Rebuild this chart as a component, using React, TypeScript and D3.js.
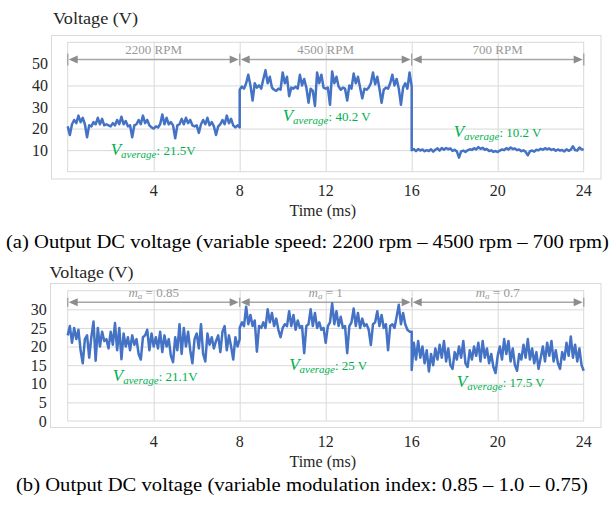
import { useEffect, useRef } from 'react'
import * as d3 from 'd3'

// sample step of the scope traces (ms)
const DT = 0.1
const edges = [0, 8, 16, 24]
const xTicks = [4, 8, 12, 16, 20, 24]

// (a) variable speed: 2200 rpm, 4500 rpm, 700 rpm
const speed2200 = [
  21, 17, 22, 24, 22.5, 26, 23, 25, 22, 16, 21.5,
  21, 23, 22, 25, 22, 24.5, 21.5, 22, 21.5,
  21, 22.5, 21.5, 24, 22, 25.5, 22, 23.5, 21, 21.5,
  16, 21.5, 22, 24, 22, 26, 22.5, 24, 21.5, 20.5,
  20, 21, 20.5, 22, 26.5, 22, 25, 22, 23, 21.5,
  15.5, 21.5, 22, 24.5, 22, 25, 22.5, 24, 21.5, 21,
  21.5, 18, 22, 24, 22, 25, 21.5, 23, 21, 17,
  21, 22, 24, 22, 26, 22.5, 24.5, 21.5, 20.5, 21.5, 20.5,
]
const speed4500 = [
  38, 39.5, 38.5, 41, 45, 40, 33, 41, 39, 40,
  38.5, 43, 47, 41, 44, 39, 38, 37.5, 38.5, 38,
  46, 41, 44, 35, 39, 38.5, 39.5, 38.5, 45, 40,
  43, 39, 32, 38.5, 37.5, 30.5, 46, 41, 45, 39,
  38.5, 39, 31, 46.5, 41, 44, 39.5, 38, 39, 38.5,
  33, 40, 38.5, 45.5, 41, 44, 39, 34, 38.5, 38,
  39, 41, 46, 40.5, 44, 38.5, 32, 38, 39, 38.5,
  41, 45, 40, 43, 38.5, 31, 39, 41, 38.5, 46, 39.5,
]
const speed700 = [
  10, 10.5, 9.5, 10.5, 9.8, 10.3, 9.5, 10, 9.6, 10.4,
  9.3, 10.2, 10.8, 9.8, 11, 10.2, 11, 10.4, 10.8, 9.6,
  10.2, 9.4, 6.5, 9.4, 9.8, 9.2, 9.9, 10.4, 10.1, 10.9,
  10.3, 11.4, 10.6, 11.1, 10.2, 10.5, 9.6, 9.9, 9.2, 9.6,
  9.1, 9.8, 10.3, 10, 10.9, 10.3, 11.2, 10.5, 10.8, 10,
  10.3, 9.5, 9.9, 9.2, 7.6, 9.5, 9.8, 9.3, 10.2, 9.9,
  10.6, 10.2, 10.9, 10.4, 10.8, 10.1, 10.5, 9.7, 10.3, 9.8,
  10.1, 9.4, 10.4, 9.7, 10.2, 11.8, 10, 9.8, 11.2, 10.4, 10.2,
]
const speedLabels = ['2200 RPM', '4500 RPM', '700 RPM']
const speedAverages = ['21.5V', '40.2 V', '10.2 V']
const speedAvgT = [2.0, 10.0, 17.95]
const speedAvgV = [7.7, 23.6, 16.2]
const speedYTicks = [10, 20, 30, 40, 50]
const speedGrid = [10, 20, 30, 40]

// (b) variable modulation index: 0.85, 1.0, 0.75
const mod085 = [
  23, 25.5, 21, 25, 22, 24.5, 19, 15.5, 22, 23,
  17, 22.5, 26.7, 16.2, 25, 20, 24, 21.5, 22, 19.5,
  24, 20.5, 26.3, 19, 25, 16.6, 23.5, 20, 22.5, 19,
  23, 20.5, 22, 18, 16.5, 22.5, 23, 24.5, 19, 23.5,
  20, 22.5, 19.5, 24, 18.5, 23, 20, 22, 17.5, 15.8,
  22.5, 19, 26, 18, 25, 20, 24, 19, 15.5, 22,
  23.5, 19.5, 26, 18, 16, 23.5, 20.5, 22.5, 19.5, 21.5,
  23, 18.5, 24, 25.5, 19, 23, 20, 16.5, 22.5, 20, 22,
]
const mod100 = [
  25, 26.5, 25.5, 30.7, 26, 28.5, 25.5, 27, 18.6, 25.5,
  25, 26.5, 25, 30, 26.5, 29, 25.5, 27.5, 24.5, 22.5,
  25, 26, 25.5, 29.5, 25.5, 28.5, 24.5, 27, 25, 25.5,
  18.2, 25.5, 26, 30, 25.5, 29, 25, 26.5, 24.5, 25,
  21, 25.5, 26.5, 31.6, 26, 29.5, 25.5, 28, 25, 25.5,
  18.2, 25.5, 26.5, 30.2, 25.5, 29, 25, 27.5, 25.5, 26,
  24.5, 20.4, 26, 26.5, 29.5, 25.5, 28.5, 25, 26, 19,
  25.5, 26, 25, 28, 31.2, 26, 29, 26, 24.5, 24, 24,
]
const mod075 = [
  13.7, 21, 16.5, 21.5, 17, 20, 15.5, 19, 13.3, 18,
  15, 19.5, 16.5, 20.5, 17, 21.5, 16, 19.5, 15, 14,
  18.5, 16.5, 20, 17, 21.5, 15.5, 14.5, 19, 16.5, 20,
  17.5, 21, 16, 21.5, 17, 19.5, 15.5, 18, 14.5, 12.9,
  17.5, 20, 16.5, 22, 18, 21.5, 16, 19.5, 15, 13.5,
  18, 16.5, 20.5, 17, 22, 16.5, 19.5, 15.5, 18.5, 14,
  17, 20, 16, 21, 17.5, 21.5, 16, 19, 15.5, 14,
  18.5, 16.5, 21, 17.5, 22.7, 17, 20.5, 16, 19.5, 15, 13.5,
]
const modLabels = ['0.85', '1', '0.7']
const modAverages = ['21.1V', '25 V', '17.5 V']
const modAvgT = [2.1, 10.3, 18.1]
const modAvgV = [10.8, 13.7, 9.2]
const modYTicks = [0, 5, 10, 15, 20, 25, 30]
const modGrid = [5, 10, 15, 20, 25, 30]

const FONT = '"Liberation Serif", "Times New Roman", serif'
const BLUE = '#4472C4'
const GREEN = '#00B050'
const GRID = '#d9d9d9'
const INK = '#262626'

function toPoints(segments) {
  const pts = []
  segments.forEach((vals, i) => {
    vals.forEach((v, j) => pts.push([edges[i] + j * DT, v]))
  })
  return pts
}

function drawPanel(svg, cfg) {
  const { frame, plot, yMax, yTicks, grid } = cfg
  const x = d3.scaleLinear().domain([0, 24]).range([plot.left, plot.right])
  const y = d3.scaleLinear().domain([0, yMax]).range([plot.bottom, plot.top])
  const g = svg.append('g').style('font-family', FONT)

  g.append('rect')
    .attr('x', frame.x).attr('y', frame.y)
    .attr('width', frame.w).attr('height', frame.h)
    .attr('fill', 'none').attr('stroke', GRID)

  g.append('text')
    .attr('x', cfg.title.x).attr('y', cfg.title.y)
    .attr('font-size', 16).attr('fill', INK)
    .attr('textLength', cfg.title.w).attr('lengthAdjust', 'spacingAndGlyphs')
    .style('font-family', FONT)
    .text('Voltage (V)')

  // grid
  g.append('g')
    .attr('transform', `translate(0,${plot.bottom})`)
    .call(d3.axisBottom(x).tickValues(xTicks.slice(0, -1)).tickSize(plot.top - plot.bottom).tickFormat(''))
    .call((ax) => ax.select('.domain').remove())
    .call((ax) => ax.selectAll('.tick line').attr('stroke', GRID))
  g.append('g')
    .attr('transform', `translate(${plot.left},0)`)
    .call(d3.axisRight(y).tickValues(grid).tickSize(plot.right - plot.left).tickFormat(''))
    .call((ax) => ax.select('.domain').remove())
    .call((ax) => ax.selectAll('.tick line').attr('stroke', GRID))
  g.append('rect')
    .attr('x', plot.left).attr('y', plot.top)
    .attr('width', plot.right - plot.left).attr('height', plot.bottom - plot.top)
    .attr('fill', 'none').attr('stroke', GRID)

  // tick labels
  g.append('g')
    .attr('transform', `translate(${cfg.yLabelX},0)`)
    .call(d3.axisLeft(y).tickValues(yTicks).tickSize(0).tickPadding(0))
    .call((ax) => ax.select('.domain').remove())
    .call((ax) => ax.selectAll('text').style('font-family', FONT).attr('font-size', 16).attr('fill', INK))
  g.append('g')
    .selectAll('text')
    .data(xTicks)
    .join('text')
    .attr('x', (d) => x(d)).attr('y', cfg.xLabelY)
    .attr('text-anchor', 'middle').attr('font-size', 16).attr('fill', INK)
    .style('font-family', FONT)
    .text((d) => d)

  g.append('text')
    .attr('x', (plot.left + plot.right) / 2 - 3).attr('y', cfg.timeY)
    .attr('text-anchor', 'middle').attr('font-size', 16).attr('fill', INK)
    .style('font-family', FONT)
    .text('Time (ms)')

  g.append('text')
    .attr('x', cfg.caption.x).attr('y', cfg.caption.y)
    .attr('font-size', cfg.caption.size).attr('fill', '#000')
    .attr('textLength', cfg.caption.w).attr('lengthAdjust', 'spacingAndGlyphs')
    .style('font-family', FONT)
    .text(cfg.caption.text)

  // segment arrows
  const ay = y(cfg.arrowV)
  const ar = g.append('g')
  edges.forEach((e) => {
    ar.append('line')
      .attr('x1', x(e)).attr('x2', x(e))
      .attr('y1', ay - cfg.barH).attr('y2', ay + cfg.barH)
      .attr('stroke', '#a6a6a6').attr('stroke-width', 1.5)
  })
  cfg.labels.forEach((lab, i) => {
    const x0 = x(edges[i]) + 1
    const x1 = x(edges[i + 1]) - 1
    ar.append('line')
      .attr('x1', x0 + 6).attr('x2', x1 - 6).attr('y1', ay).attr('y2', ay)
      .attr('stroke', '#a6a6a6').attr('stroke-width', 1.5)
    ar.append('path')
      .attr('d', `M${x0},${ay}L${x0 + 9},${ay - 4}L${x0 + 9},${ay + 4}Z`)
      .attr('fill', '#8c8c8c')
    ar.append('path')
      .attr('d', `M${x1},${ay}L${x1 - 9},${ay - 4}L${x1 - 9},${ay + 4}Z`)
      .attr('fill', '#8c8c8c')
    const t = ar.append('text')
      .attr('x', x((edges[i] + edges[i + 1]) / 2)).attr('y', y(cfg.labelV))
      .attr('text-anchor', 'middle').attr('fill', '#999').attr('font-size', 13)
      .style('font-family', FONT)
    if (cfg.modIndex) {
      t.append('tspan').attr('font-style', 'italic').text('m')
      t.append('tspan').attr('font-style', 'italic').attr('font-size', 9).attr('dy', 2).text('a')
      t.append('tspan').attr('dy', -2).text(` = ${lab}`)
    } else {
      t.text(lab)
    }
  })

  // trace
  const line = d3.line().x((d) => x(d[0])).y((d) => y(d[1]))
  g.append('path')
    .datum(cfg.points)
    .attr('fill', 'none')
    .attr('stroke', BLUE)
    .attr('stroke-width', 2.5)
    .attr('stroke-linejoin', 'round')
    .attr('d', line)

  // averages
  cfg.averages.forEach((avg, i) => {
    const t = g.append('text')
      .attr('x', x(cfg.avgT[i])).attr('y', y(cfg.avgV[i]))
      .attr('fill', GREEN)
      .style('font-family', FONT)
    t.append('tspan').attr('font-style', 'italic').attr('font-size', 17).text('V')
    t.append('tspan').attr('font-style', 'italic').attr('font-size', 11).attr('dy', 3).text('average')
    t.append('tspan').attr('font-size', 13).attr('dy', -3).text(`: ${avg}`)
  })
}

export default function App() {
  const svgRef = useRef(null)

  useEffect(() => {
    const svg = d3.select(svgRef.current)
    svg.selectAll('*').remove()

    drawPanel(svg, {
      frame: { x: 51.5, y: 35.5, w: 549.5, h: 143.5 },
      plot: { left: 67.7, right: 583.7, top: 42.3, bottom: 171.7 },
      yMax: 60,
      yTicks: speedYTicks,
      grid: speedGrid,
      yLabelX: 48,
      xLabelY: 196,
      timeY: 216,
      title: { x: 53, y: 24, w: 85 },
      caption: { x: 6, y: 248, w: 603, size: 19, text: '(a) Output DC voltage (variable speed: 2200 rpm – 4500 rpm – 700 rpm)' },
      arrowV: 52,
      labelV: 54.5,
      barH: 6,
      labels: speedLabels,
      modIndex: false,
      points: toPoints([speed2200, speed4500, speed700]),
      averages: speedAverages,
      avgT: speedAvgT,
      avgV: speedAvgV,
    })

    drawPanel(svg, {
      frame: { x: 50.5, y: 283.5, w: 550.5, h: 144 },
      plot: { left: 67.7, right: 583.7, top: 290.7, bottom: 421 },
      yMax: 35,
      yTicks: modYTicks,
      grid: modGrid,
      yLabelX: 46.7,
      xLabelY: 447,
      timeY: 467,
      title: { x: 49.5, y: 278, w: 84 },
      caption: { x: 16, y: 491, w: 572, size: 18, text: '(b) Output DC voltage (variable modulation index: 0.85 – 1.0 – 0.75)' },
      arrowV: 31.9,
      labelV: 33.3,
      barH: 4.5,
      labels: modLabels,
      modIndex: true,
      points: toPoints([mod085, mod100, mod075]),
      averages: modAverages,
      avgT: modAvgT,
      avgV: modAvgV,
    })

    return () => {
      svg.selectAll('*').remove()
    }
  }, [])

  return (
    <div style={{ position: 'absolute', left: 0, top: 0, background: '#fff' }}>
      <svg ref={svgRef} width={616} height={514} />
    </div>
  )
}
